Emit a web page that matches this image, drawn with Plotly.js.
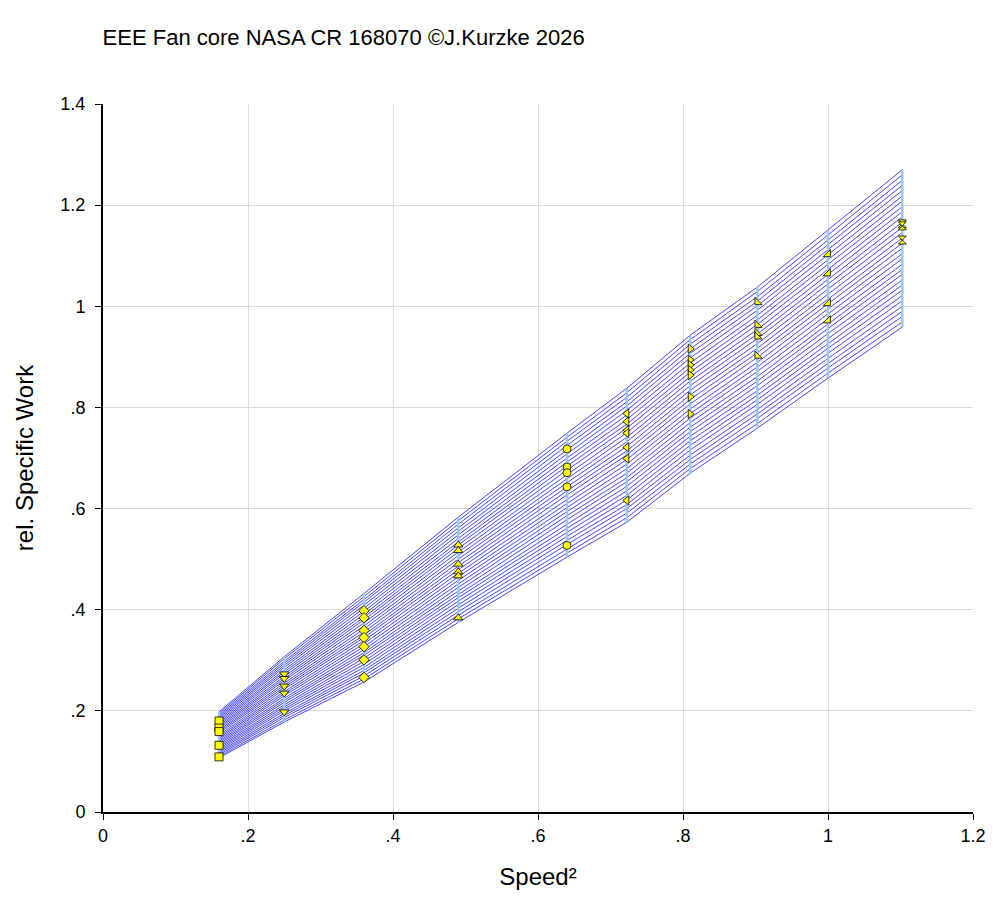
<!DOCTYPE html>
<html>
<head>
<meta charset="utf-8">
<script src="https://cdn.plot.ly/plotly-3.0.1.min.js"></script>
<style>
  body { margin: 0; background: #fff; }
  #myDiv { width: 1006px; height: 911px; }
</style>
</head>
<body>
<div id="myDiv"></div>
<script>
// speed lines (Speed^2) of the map
var speeds = [0.16, 0.25, 0.36, 0.49, 0.64, 0.7225, 0.81, 0.9025, 1.0, 1.1025];

// rel. specific work along each speed line, one value per beta line (bottom -> top)
var work016 = [0.107, 0.110, 0.113, 0.116, 0.119, 0.122, 0.125, 0.128, 0.131, 0.134, 0.137, 0.140, 0.143, 0.146, 0.149, 0.152, 0.156, 0.159, 0.162, 0.165, 0.168, 0.171, 0.174, 0.177, 0.180, 0.183, 0.186, 0.189, 0.192, 0.195, 0.198];
var work025 = [0.178, 0.182, 0.187, 0.191, 0.195, 0.200, 0.204, 0.208, 0.212, 0.217, 0.221, 0.225, 0.230, 0.234, 0.238, 0.243, 0.247, 0.251, 0.255, 0.260, 0.264, 0.268, 0.273, 0.277, 0.281, 0.286, 0.290, 0.294, 0.298, 0.303, 0.307];
var work036 = [0.257, 0.263, 0.269, 0.275, 0.280, 0.286, 0.292, 0.298, 0.304, 0.310, 0.315, 0.321, 0.327, 0.333, 0.339, 0.345, 0.350, 0.356, 0.362, 0.368, 0.374, 0.380, 0.385, 0.391, 0.397, 0.403, 0.409, 0.415, 0.420, 0.426, 0.432];
var work049 = [0.375, 0.382, 0.389, 0.396, 0.403, 0.410, 0.417, 0.424, 0.430, 0.437, 0.444, 0.451, 0.458, 0.465, 0.472, 0.479, 0.486, 0.493, 0.500, 0.507, 0.514, 0.521, 0.528, 0.534, 0.541, 0.548, 0.555, 0.562, 0.569, 0.576, 0.583];
var work064 = [0.504, 0.512, 0.520, 0.529, 0.537, 0.545, 0.553, 0.561, 0.569, 0.578, 0.586, 0.594, 0.602, 0.610, 0.618, 0.627, 0.635, 0.643, 0.651, 0.659, 0.667, 0.676, 0.684, 0.692, 0.700, 0.708, 0.716, 0.725, 0.733, 0.741, 0.749];
var work072 = [0.573, 0.582, 0.591, 0.600, 0.608, 0.617, 0.626, 0.635, 0.644, 0.653, 0.661, 0.670, 0.679, 0.688, 0.697, 0.706, 0.714, 0.723, 0.732, 0.741, 0.750, 0.759, 0.767, 0.776, 0.785, 0.794, 0.803, 0.811, 0.820, 0.829, 0.838];
var work081 = [0.670, 0.679, 0.688, 0.697, 0.706, 0.716, 0.725, 0.734, 0.743, 0.752, 0.761, 0.770, 0.779, 0.788, 0.797, 0.807, 0.816, 0.825, 0.834, 0.843, 0.852, 0.861, 0.870, 0.879, 0.888, 0.898, 0.907, 0.916, 0.925, 0.934, 0.943];
var work090 = [0.759, 0.768, 0.778, 0.787, 0.796, 0.806, 0.815, 0.824, 0.833, 0.843, 0.852, 0.861, 0.871, 0.880, 0.889, 0.899, 0.908, 0.917, 0.926, 0.936, 0.945, 0.954, 0.964, 0.973, 0.982, 0.992, 1.001, 1.010, 1.019, 1.029, 1.038];
var work100 = [0.858, 0.868, 0.878, 0.887, 0.897, 0.907, 0.917, 0.926, 0.936, 0.946, 0.956, 0.965, 0.975, 0.985, 0.995, 1.005, 1.014, 1.024, 1.034, 1.044, 1.053, 1.063, 1.073, 1.083, 1.092, 1.102, 1.112, 1.122, 1.131, 1.141, 1.151];
var work110 = [0.959, 0.969, 0.980, 0.990, 1.000, 1.011, 1.021, 1.032, 1.042, 1.052, 1.063, 1.073, 1.083, 1.094, 1.104, 1.115, 1.125, 1.135, 1.146, 1.156, 1.166, 1.177, 1.187, 1.197, 1.208, 1.218, 1.229, 1.239, 1.249, 1.260, 1.270];
var mapColumns = [work016, work025, work036, work049, work064, work072, work081, work090, work100, work110];

// measured test points per speed
var meas016 = [0.180, 0.166, 0.159, 0.132, 0.109];
var meas025 = [0.273, 0.264, 0.249, 0.235, 0.198];
var meas036 = [0.398, 0.384, 0.359, 0.345, 0.327, 0.301, 0.266];
var meas049 = [0.528, 0.517, 0.490, 0.475, 0.467, 0.384];
var meas064 = [0.718, 0.682, 0.671, 0.643, 0.527];
var meas072 = [0.788, 0.772, 0.755, 0.749, 0.721, 0.699, 0.616];
var meas081 = [0.916, 0.894, 0.884, 0.874, 0.864, 0.821, 0.787];
var meas090 = [1.008, 0.963, 0.947, 0.940, 0.902];
var meas100 = [1.103, 1.065, 1.006, 0.972];
var meas110 = [1.163, 1.159, 1.131];
var measured = [meas016, meas025, meas036, meas049, meas064, meas072, meas081, meas090, meas100, meas110];
var symbols = ['square', 'triangle-down', 'diamond', 'triangle-up', 'circle', 'triangle-left',
               'triangle-right', 'triangle-sw', 'triangle-se', 'hourglass'];

var xTicks = [0, 0.2, 0.4, 0.6, 0.8, 1, 1.2];
var xTickText = ['0', '.2', '.4', '.6', '.8', '1', '1.2'];
var yTicks = [0, 0.2, 0.4, 0.6, 0.8, 1, 1.2, 1.4];
var yTickText = ['0', '.2', '.4', '.6', '.8', '1', '1.2', '1.4'];

var data = [];

// beta lines
for (var j = 0; j < work016.length; j++) {
    data.push({
        type: 'scatter',
        mode: 'lines',
        x: speeds,
        y: mapColumns.map(function (c) { return c[j]; }),
        showlegend: false,
        hoverinfo: 'skip',
        line: { color: '#4646ff', width: 1 }
    });
}

// speed lines
for (var i = 0; i < speeds.length; i++) {
    var col = mapColumns[i];
    data.push({
        type: 'scatter',
        mode: 'lines',
        x: [speeds[i], speeds[i]],
        y: [col[0], col[col.length - 1]],
        showlegend: false,
        hoverinfo: 'skip',
        line: { color: '#9cc8f4', width: 2.5 }
    });
}

// test data
for (var k = 0; k < speeds.length; k++) {
    data.push({
        type: 'scatter',
        mode: 'markers',
        x: measured[k].map(function () { return speeds[k]; }),
        y: measured[k],
        showlegend: false,
        marker: {
            symbol: symbols[k],
            size: 8,
            color: '#ffff00',
            line: { color: '#000000', width: 0.8 }
        }
    });
}

var fam = 'Liberation Sans, Arial, sans-serif';
var axisFont = { family: fam, size: 18, color: '#000' };

var layout = {
    width: 1006,
    height: 911,
    margin: { l: 103, r: 33, t: 104, b: 99, pad: 0 },
    paper_bgcolor: '#ffffff',
    plot_bgcolor: '#ffffff',
    font: { family: fam, size: 18, color: '#000' },
    title: {
        text: 'EEE Fan core NASA CR 168070 ©J.Kurzke 2026',
        font: { family: fam, size: 22, color: '#000' },
        xref: 'container', yref: 'container',
        x: 0.102, xanchor: 'left',
        y: 0.959, yanchor: 'middle'
    },
    xaxis: {
        range: [0, 1.2],
        tickvals: xTicks,
        ticktext: xTickText,
        tickfont: axisFont,
        ticks: 'outside',
        ticklen: 6,
        tickwidth: 1,
        tickcolor: '#000',
        showline: true,
        linecolor: '#000',
        linewidth: 2,
        showgrid: true,
        gridcolor: '#dcdcdc',
        gridwidth: 1,
        zeroline: false,
        title: { text: 'Speed²', font: { family: fam, size: 24, color: '#000' }, standoff: 24 }
    },
    yaxis: {
        range: [0, 1.4],
        tickvals: yTicks,
        ticktext: yTickText,
        tickfont: axisFont,
        ticks: 'outside',
        ticklen: 6,
        tickwidth: 1,
        tickcolor: '#000',
        ticklabelstandoff: 6,
        showline: true,
        linecolor: '#000',
        linewidth: 2,
        showgrid: true,
        gridcolor: '#dcdcdc',
        gridwidth: 1,
        zeroline: false,
        title: { text: 'rel. Specific Work', font: { family: fam, size: 24, color: '#000' }, standoff: 20 }
    }
};

Plotly.newPlot('myDiv', data, layout, { displayModeBar: false, staticPlot: true });
</script>
</body>
</html>
